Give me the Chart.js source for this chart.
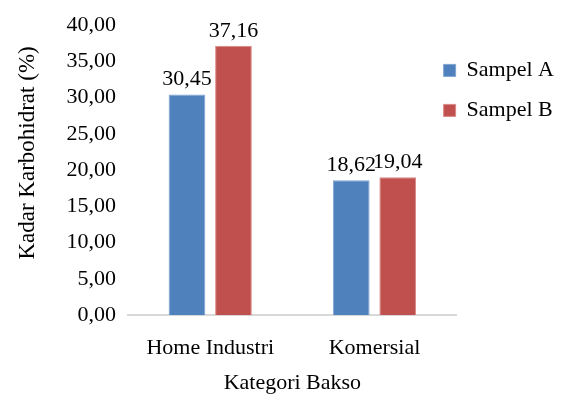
<!DOCTYPE html>
<html>
<head>
<meta charset="utf-8">
<script src="https://cdn.jsdelivr.net/npm/chart.js@4/dist/chart.umd.min.js"></script>
<style>
  html, body { margin: 0; padding: 0; background: #fff; }
  #wrap { width: 566px; height: 399px; }
</style>
</head>
<body>
<div id="wrap"><canvas id="chart"></canvas></div>
<script>
// Kadar karbohidrat per kategori bakso
const categories = ['Home Industri', 'Komersial'];
const sampelA = [30.45, 18.62];
const sampelB = [37.16, 19.04];
const yTicks = [0, 5, 10, 15, 20, 25, 30, 35, 40];

const FONT = "'Liberation Serif', 'Times New Roman', serif";
const SIZE = 22;

function koma(v) {
    return v.toFixed(2).replace('.', ',');
}

// value labels above each bar
const barLabels = {
    id: 'barLabels',
    afterDatasetsDraw(chart) {
        const ctx = chart.ctx;
        ctx.save();
        ctx.font = SIZE + 'px ' + FONT;
        ctx.fillStyle = '#000';
        ctx.textAlign = 'center';
        ctx.textBaseline = 'alphabetic';
        chart.data.datasets.forEach((ds, i) => {
            chart.getDatasetMeta(i).data.forEach((bar, j) => {
                ctx.fillText(koma(ds.data[j]), bar.x, bar.y - 9);
            });
        });
        ctx.restore();
    }
};

// let the legend sit a little over the right end of the axis
const legendShift = {
    id: 'legendShift',
    afterLayout(chart) {
        const lg = chart.legend;
        lg.left -= 31;
        lg.right -= 31;
    }
};

new Chart(document.getElementById('chart'), {
    type: 'bar',
    data: {
        labels: categories,
        datasets: [{
            label: 'Sampel A',
            data: sampelA,
            backgroundColor: '#4F81BD',
            borderColor: '#7FA3D0',
            borderWidth: 1
        }, {
            label: 'Sampel B',
            data: sampelB,
            backgroundColor: '#C0504D',
            borderColor: '#D98987',
            borderWidth: 1
        }]
    },
    options: {
        responsive: true,
        maintainAspectRatio: false,
        animation: false,
        datasets: {
            bar: { categoryPercentage: 0.566, barPercentage: 0.79 }
        },
        layout: { padding: { top: 5, bottom: 3, left: 14, right: -29 } },
        plugins: {
            legend: {
                position: 'right',
                align: 'start',
                title: { display: true, text: ' ', padding: { top: 22, bottom: 0 } },
                labels: {
                    boxWidth: 12,
                    boxHeight: 12,
                    padding: 18,
                    color: '#000',
                    font: { family: FONT, size: SIZE }
                }
            },
            tooltip: { enabled: false }
        },
        scales: {
            x: {
                grid: { display: false, drawTicks: false },
                border: { color: '#D9D9D9', width: 2 },
                ticks: {
                    color: '#000',
                    padding: 20,
                    maxRotation: 0,
                    autoSkip: false,
                    font: { family: FONT, size: SIZE }
                },
                title: {
                    display: true,
                    text: 'Kategori Bakso',
                    color: '#000',
                    padding: { top: -12, bottom: 0 },
                    font: { family: FONT, size: SIZE }
                }
            },
            y: {
                min: 0,
                max: 40,
                afterBuildTicks(axis) {
                    axis.ticks = yTicks.map(v => ({ value: v }));
                },
                grid: { display: false, drawTicks: false },
                border: { display: false },
                ticks: {
                    color: '#000',
                    padding: 12,
                    font: { family: FONT, size: SIZE },
                    callback: v => koma(v)
                },
                title: {
                    display: true,
                    // leading spaces lift the rotated title a little above the axis middle
                    text: '\u00a0\u00a0\u00a0\u00a0\u00a0\u00a0Kadar Karbohidrat (%)',
                    color: '#000',
                    padding: { top: 0, bottom: 13 },
                    font: { family: FONT, size: 23 }
                }
            }
        }
    },
    plugins: [barLabels, legendShift]
});
</script>
</body>
</html>
